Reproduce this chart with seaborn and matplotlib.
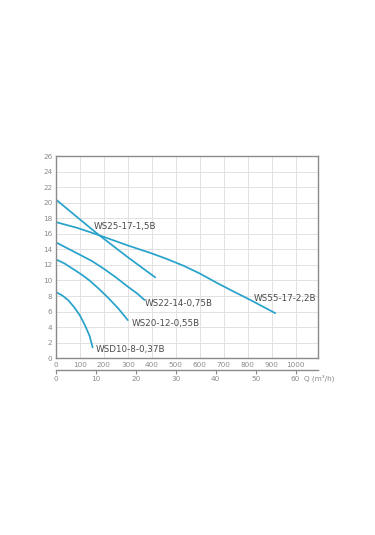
import matplotlib
matplotlib.use("Agg")
import matplotlib.pyplot as plt
import seaborn as sns
import pandas as pd

# ---- data (Q in l/min, H in m) ----
ws25_q = [0, 90, 177, 295, 414]
ws25_h = [20.4, 18.1, 15.9, 13.1, 10.4]

ws55_q = [0, 90, 177, 300, 393, 460, 532, 600, 671, 740, 811, 860, 915]
ws55_h = [17.5, 16.75, 15.85, 14.5, 13.55, 12.8, 11.9, 10.9, 9.7, 8.6, 7.5, 6.7, 5.8]

ws22_q = [0, 50, 100, 150, 200, 250, 300, 340, 369]
ws22_h = [14.9, 14.1, 13.3, 12.5, 11.5, 10.4, 9.2, 8.3, 7.5]

ws20_q = [0, 35, 70, 105, 140, 180, 220, 260, 300]
ws20_h = [12.7, 12.2, 11.5, 10.8, 10.0, 8.9, 7.7, 6.4, 4.9]

wsd10_q = [0, 25, 50, 75, 100, 120, 140, 153]
wsd10_h = [8.5, 8.1, 7.5, 6.6, 5.5, 4.3, 2.9, 1.4]

series_names = ["WS25-17-1,5B", "WS55-17-2,2B", "WS22-14-0,75B", "WS20-12-0,55B", "WSD10-8-0,37B"]
label_pos_q = [156, 827, 372, 316, 166]
label_pos_h = [17.0, 7.7, 7.1, 4.5, 1.1]

x_ticks = [0, 100, 200, 300, 400, 500, 600, 700, 800, 900, 1000]
y_ticks = list(range(0, 27, 2))
m3h_ticks = [0, 10, 20, 30, 40, 50, 60]

frames = []
for name, q, h in zip(series_names,
                      [ws25_q, ws55_q, ws22_q, ws20_q, wsd10_q],
                      [ws25_h, ws55_h, ws22_h, ws20_h, wsd10_h]):
    frames.append(pd.DataFrame({"Q": q, "H": h, "pump": name}))
df = pd.concat(frames, ignore_index=True)

sns.set_theme(style="white")
plt.rcParams["font.family"] = ["DejaVu Sans"]

fig = plt.figure(figsize=(3.75, 5.35), dpi=100)
ax = fig.add_axes([0.1493, 0.3303, 0.6997, 0.3781])

line_color = "#27a2ca"
sns.lineplot(data=df, x="Q", y="H", hue="pump", units="pump", estimator=None,
             sort=False, palette=[line_color] * len(series_names),
             linewidth=1.25, legend=False, ax=ax)
for ln in ax.get_lines():
    ln.set_solid_joinstyle("round")
    ln.set_solid_capstyle("round")

ax.set_xlim(0, 1095)
ax.set_ylim(0, 26)
ax.set_xticks(x_ticks)
ax.set_yticks(y_ticks)
ax.grid(True, color="#e2e2e2", linewidth=0.7)
ax.set_axisbelow(True)
ax.set_xlabel("")
ax.set_ylabel("")
for s in ax.spines.values():
    s.set_color("#8a8a8a")
    s.set_linewidth(1.0)
ax.tick_params(axis="both", length=0, labelsize=5.2, labelcolor="#8a8a8a", pad=2.5)

for name, qx, hy in zip(series_names, label_pos_q, label_pos_h):
    ax.text(qx, hy, name, fontsize=6.3, color="#4a4a4a", va="center", ha="left")

# secondary axis in m3/h
sec = ax.secondary_xaxis(-0.058, functions=(lambda q: q * 0.06, lambda m: m / 0.06))
sec.set_xticks(m3h_ticks)
sec.spines["bottom"].set_color("#8a8a8a")
sec.spines["bottom"].set_linewidth(1.0)
sec.tick_params(axis="x", direction="out", length=3, width=0.8, color="#8a8a8a",
                labelsize=5.2, labelcolor="#8a8a8a", pad=1.5)
ax.text(0.945, -0.098, "Q (m³/h)", transform=ax.transAxes, fontsize=5.2,
        color="#8a8a8a", ha="left", va="center")

fig.savefig("out.png", dpi=100)
